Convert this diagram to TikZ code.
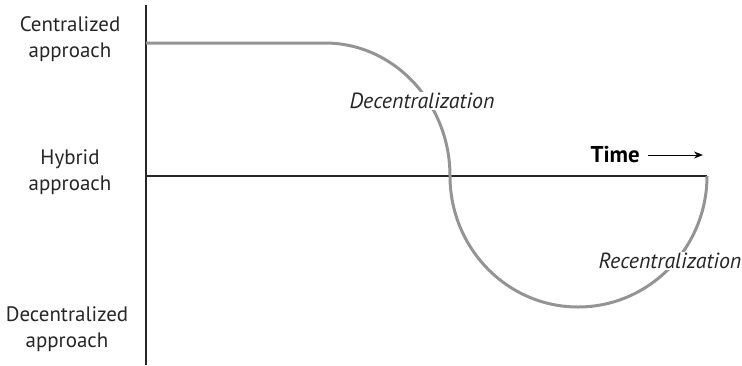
\documentclass[tikz,border=0pt]{standalone}
\usepackage{fontspec}
\usetikzlibrary{arrows.meta}
\setmainfont{PT Sans}
\begin{document}
\begin{tikzpicture}[x=1bp,y=-1bp,
  axis/.style={draw=black!85,line width=1.3bp},
  curve/.style={draw=black!42,line width=3bp},
  ylabel/.style={align=center,font=\fontsize{21}{26}\selectfont,text=black!85},
  phase/.style={fill=white,inner sep=1.5bp,font=\fontsize{22}{24}\selectfont\itshape,text=black!85}]
\useasboundingbox (0,0) rectangle (742,365);
% axes
\coordinate (top) at (146,5);
\coordinate (bot) at (146,365);
\coordinate (orig) at (146,176);
\coordinate (tend) at (707,176);
\draw[axis] (top) -- (bot);
\draw[axis] (orig) -- (tend);
% trajectory of the organisation over time
\coordinate (c0) at (146,43);
\coordinate (c1) at (325,43);
\coordinate (c2) at (450,176);
\coordinate (c3) at (578,307);
\draw[curve] (c0) -- (c1)
  .. controls (394,43) and (450,103) .. (c2)
  .. controls (450,248) and (507,307) .. (c3)
  .. controls (649,307) and (707,248) .. (tend);
% labels
\node[ylabel] (cent) at (70,39) {Centralized\\approach};
\node[ylabel] (hyb) at (70,172) {Hybrid\\approach};
\node[ylabel] (dec) at (67,329) {Decentralized\\approach};
\node[phase] (decz) at (422,101) {Decentralization};
\node[phase] (recz) at (670,261) {Recentralization};
\node[font=\fontsize{23}{24}\selectfont\bfseries,text=black,anchor=east,inner sep=0pt] (time) at (640,155) {Time};
\draw[-{Stealth[length=9bp,width=7bp]},line width=1bp] ([xshift=8bp]time.east) -- ([xshift=63bp]time.east);
\end{tikzpicture}
\end{document}
